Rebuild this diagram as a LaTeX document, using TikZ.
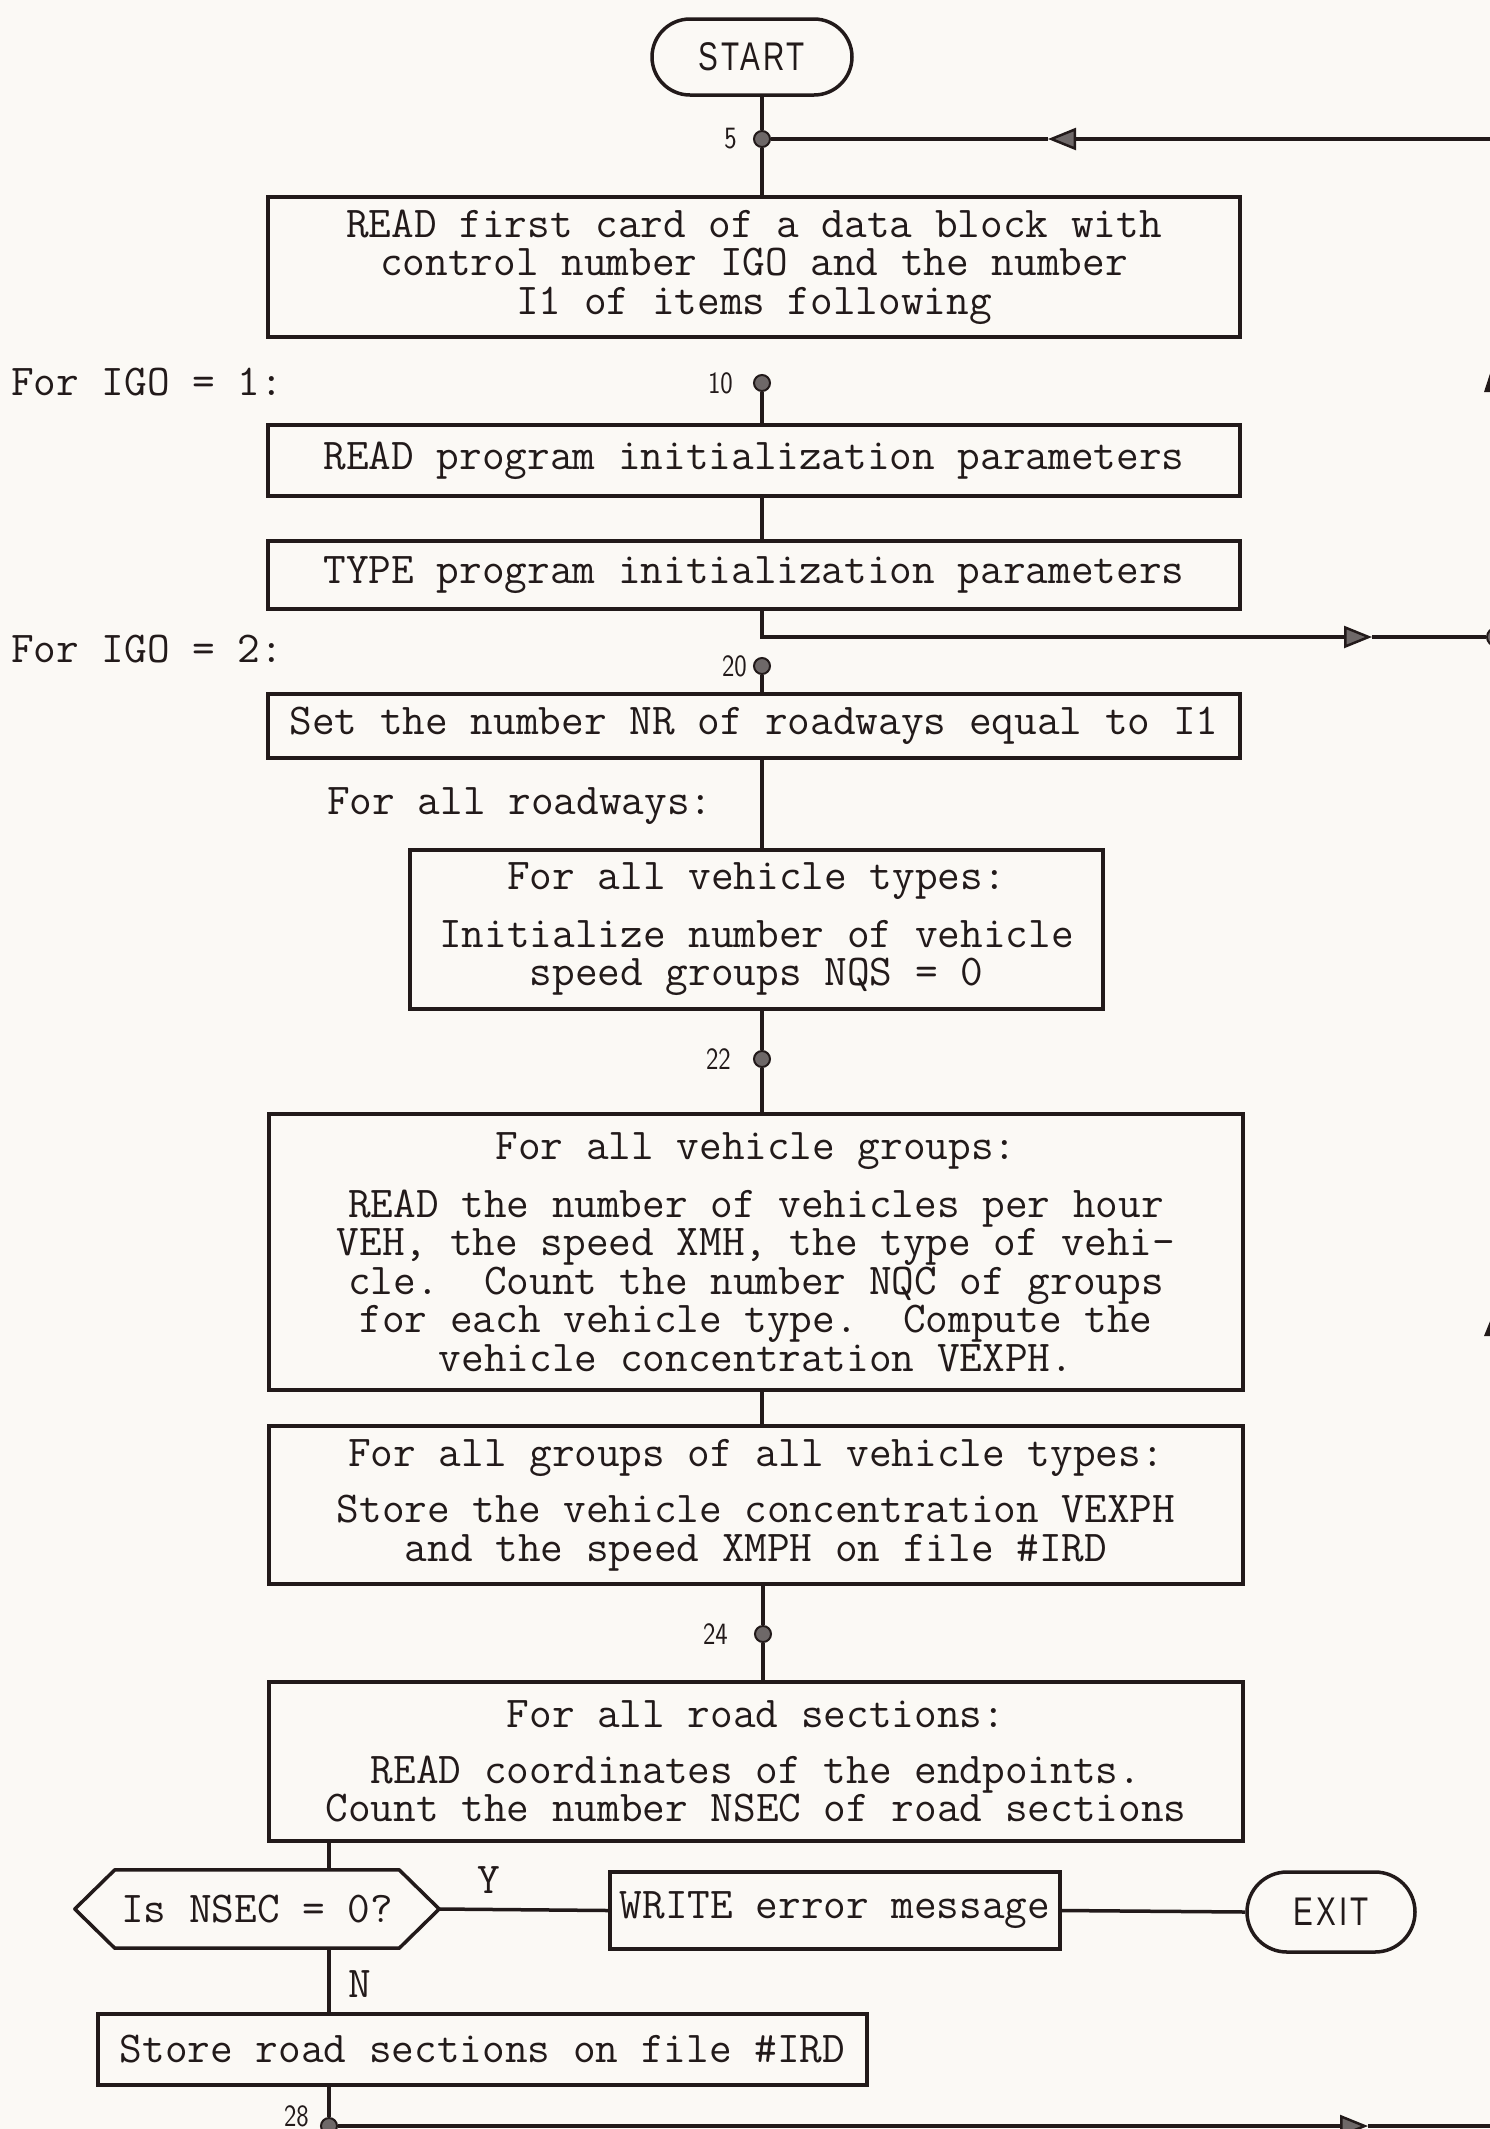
\documentclass[tikz,border=0pt]{standalone}
\usepackage{fontspec}
\usetikzlibrary{arrows.meta,positioning}
\definecolor{ink}{HTML}{221A1A}
\definecolor{paper}{HTML}{FBF9F5}
\definecolor{dotfill}{HTML}{6E6868}
\newfontfamily\termfont[LetterSpace=10]{Liberation Sans}
\newcommand{\flowtt}{\ttfamily\fontsize{44}{38.5}\selectfont}
\newcommand{\flowlbl}{\sffamily\fontsize{31}{31}\selectfont}
\newcommand{\flowterm}{\termfont\fontsize{40}{40}\selectfont}
\begin{document}
\begin{tikzpicture}[x=1pt,y=-1pt,
  box/.style={draw=ink, line width=3.5pt, inner sep=0pt, align=center, font=\flowtt, text=ink},
  term/.style={draw=ink, line width=3.5pt, rounded corners=38pt, inner sep=0pt, font=\flowterm, text=ink},
  dotnode/.style={circle, fill=dotfill, draw=ink, line width=2pt, inner sep=0pt, minimum size=16pt},
  lbl/.style={font=\flowlbl, text=ink, inner sep=0pt},
  side/.style={font=\flowtt, text=ink, inner sep=0pt},
  conn/.style={draw=ink, line width=3.5pt},
  tip/.style={-{Triangle[length=28pt,width=22pt,fill=dotfill,line width=2.5pt]}}
]
\fill[paper] (0,0) rectangle (1490,2129);
\useasboundingbox (0,0) rectangle (1490,2129);
\clip (0,0) rectangle (1490,2129);

% nodes
\node[term, minimum width=200pt, minimum height=76pt] (start) at (752,57) {\scalebox{0.74}[1]{START}};
\node[dotnode] (d5) at (762,139) {};
\node[lbl, left=16pt of d5] (l5) {\scalebox{0.85}[1]{5}};
\node[box, minimum width=972pt, minimum height=140pt] (b1) at (754,267)
  {READ first card of a data block with\\control number IGO and the number\\I1 of items following};
\node[side, anchor=base west] (igo1) at (11,395) {For IGO = 1:};
\node[dotnode] (d10) at (762,383) {};
\node[lbl, left=20pt of d10] (l10) {\scalebox{0.85}[1]{10}};
\node[box, minimum width=972pt, minimum height=71pt] (b2) at (754,460.5) {READ program initialization parameters};
\node[box, minimum width=972pt, minimum height=68pt] (b3) at (754,575) {TYPE program initialization parameters};
\node[side, anchor=base west] (igo2) at (11,662) {For IGO = 2:};
\node[dotnode] (d20) at (762,666) {};
\node[lbl, left=6pt of d20] (l20) {\scalebox{0.85}[1]{20}};
\node[box, minimum width=972pt, minimum height=64pt] (b4) at (754,726) {Set the number NR of roadways equal to I1};
\node[side, anchor=base west] (roadw) at (327,814) {For all roadways:};
\node[box, minimum width=693pt, minimum height=159pt] (b5) at (756.5,929.5)
  {For all vehicle types:\\[19pt]Initialize number of vehicle\\speed groups NQS = 0};
\node[dotnode] (d22) at (762,1059) {};
\node[lbl, left=22pt of d22] (l22) {\scalebox{0.85}[1]{22}};
\node[box, minimum width=974pt, minimum height=276pt] (b6) at (756,1252)
  {For all vehicle groups:\\[19pt]READ the number of vehicles per hour\\VEH, the speed XMH, the type of vehi-\\cle.\ \ Count the number NQC of groups\\for each vehicle type.\ \ Compute the\\vehicle concentration VEXPH.};
\node[box, minimum width=974pt, minimum height=158pt] (b7) at (756,1505)
  {For all groups of all vehicle types:\\[18pt]Store the vehicle concentration VEXPH\\and the speed XMPH on file \#IRD};
\node[dotnode] (d24) at (763,1634) {};
\node[lbl, left=26pt of d24] (l24) {\scalebox{0.85}[1]{24}};
\node[box, minimum width=974pt, minimum height=159pt] (b8) at (756,1761.5)
  {For all road sections:\\[17pt]READ coordinates of the endpoints.\\Count the number NSEC of road sections};
\node[side, minimum width=364pt, minimum height=78pt, align=center] (hex) at (257,1909) {Is NSEC = 0?};
\draw[ink, line width=3.5pt, line join=round] (hex.west) -- ([xshift=40pt]hex.north west) -- ([xshift=-40pt]hex.north east)
  -- (hex.east) -- ([xshift=-40pt]hex.south east) -- ([xshift=40pt]hex.south west) -- cycle;
\node[box, minimum width=450pt, minimum height=77pt] (b10) at (835,1910.5) {WRITE error message};
\node[term, minimum width=168pt, minimum height=80pt, rounded corners=40pt] (exit) at (1331,1912) {\scalebox{0.74}[1]{EXIT}};
\node[box, minimum width=769pt, minimum height=71pt] (b9) at (482.5,2049.5) {Store road sections on file \#IRD};
\node[side, anchor=base] (ylab) at (489,1893) {Y};
\node[side, anchor=base] (nlab) at (360,1997) {N};
\node[dotnode] (d28) at (329,2126) {};
\node[lbl, anchor=south east] (l28) at (309,2127) {\scalebox{0.85}[1]{28}};
\node[dotnode, minimum size=18pt] (dR) at (1496,637) {};

% coordinates for free ends and arrow tips
\coordinate (e5) at (1490,139);
\coordinate (a5) at (1048,139);
\coordinate (j3) at (762,637);
\coordinate (a3) at (1372,637);
\coordinate (e28) at (1490,2126);
\coordinate (a28) at (1368,2126);
\coordinate (v2) at (329,0);

% connectors
\draw[conn] (start.south -| d5) -- (d5);
\draw[conn] (d5) -- (b1.north -| d5);
\draw[conn, tip] (e5) -- (a5);
\draw[conn] (a5) -- (d5);
\draw[conn] (d10) -- (b2.north -| d10);
\draw[conn] (b2.south -| d10) -- (b3.north -| d10);
\draw[conn, tip] (b3.south -| j3) -- (j3) -- (a3);
\draw[conn] (a3) -- (dR);
\draw[conn] (d20) -- (b4.north -| d20);
\draw[conn] (b4.south -| d20) -- (b5.north -| d20);
\draw[conn] (b5.south -| d22) -- (d22) -- (b6.north -| d22);
\draw[conn] (b6.south -| d22) -- (b7.north -| d22);
\draw[conn] (b7.south -| d24) -- (d24) -- (b8.north -| d24);
\draw[conn] (b8.south -| v2) -- (hex.north -| v2);
\draw[conn] (hex.east) -- (b10.west);
\draw[conn] (b10.east) -- (exit.west);
\draw[conn] (hex.south -| v2) -- (b9.north -| v2);
\draw[conn] (b9.south -| v2) -- (d28);
\draw[conn, tip] (d28) -- (a28);
\draw[conn] (a28) -- (e28);

% partial arrowheads cut by the right edge
\fill[ink] (1497,352) -- (1510,392) -- (1484,392) -- cycle;
\fill[ink] (1497,1304) -- (1510,1336) -- (1484,1336) -- cycle;
\end{tikzpicture}
\end{document}
